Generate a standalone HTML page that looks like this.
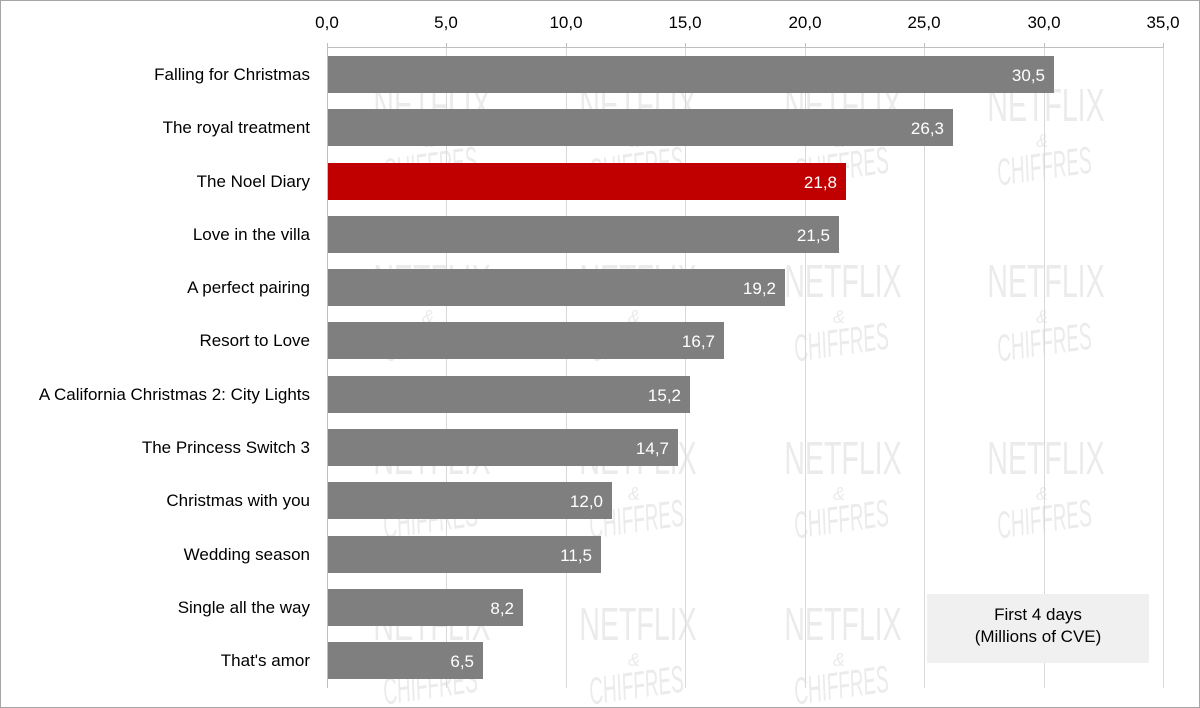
<!DOCTYPE html>
<html><head><meta charset="utf-8"><style>
body{margin:0;background:#fff}
svg{display:block}
</style></head><body>
<svg width="1200" height="708" xmlns="http://www.w3.org/2000/svg" font-family="Liberation Sans, sans-serif">
<defs>
<g id="w" fill="#ebebeb" text-anchor="middle">
<text x="0" y="0" font-size="46" transform="scale(0.62,1)">NETFLIX</text>
<text x="-4" y="26" font-size="18" font-style="italic">&amp;</text>
<text x="0" y="0" font-size="38" font-style="italic" transform="translate(0,58) rotate(-8) scale(0.5,1)">CHIFFRES</text>
</g>
</defs>
<rect x="0.5" y="0.5" width="1199" height="707" fill="#fff" stroke="#a6a6a6"/>
<use href="#w" x="432" y="121"/><use href="#w" x="638" y="121"/><use href="#w" x="843" y="121"/><use href="#w" x="1046" y="121"/>
<use href="#w" x="432" y="297"/><use href="#w" x="638" y="297"/><use href="#w" x="843" y="297"/><use href="#w" x="1046" y="297"/>
<use href="#w" x="432" y="474"/><use href="#w" x="638" y="474"/><use href="#w" x="843" y="474"/><use href="#w" x="1046" y="474"/>
<use href="#w" x="432" y="640"/><use href="#w" x="638" y="640"/><use href="#w" x="843" y="640"/>
<g stroke="#d9d9d9" stroke-width="1">
<line x1="446.5" y1="47" x2="446.5" y2="688"/><line x1="566.5" y1="47" x2="566.5" y2="688"/><line x1="685.5" y1="47" x2="685.5" y2="688"/><line x1="805.5" y1="47" x2="805.5" y2="688"/><line x1="924.5" y1="47" x2="924.5" y2="688"/><line x1="1044.5" y1="47" x2="1044.5" y2="688"/><line x1="1163.5" y1="47" x2="1163.5" y2="688"/>
</g>
<g stroke="#bfbfbf">
<line x1="327" y1="47.5" x2="1164" y2="47.5"/>
<line x1="327.5" y1="43" x2="327.5" y2="688"/>
<line x1="446.5" y1="43" x2="446.5" y2="47"/><line x1="566.5" y1="43" x2="566.5" y2="47"/><line x1="685.5" y1="43" x2="685.5" y2="47"/><line x1="805.5" y1="43" x2="805.5" y2="47"/><line x1="924.5" y1="43" x2="924.5" y2="47"/><line x1="1044.5" y1="43" x2="1044.5" y2="47"/><line x1="1163.5" y1="43" x2="1163.5" y2="47"/>
</g>
<g font-size="17" fill="#000" text-anchor="middle">
<text x="327" y="28">0,0</text><text x="446" y="28">5,0</text><text x="566" y="28">10,0</text><text x="685" y="28">15,0</text><text x="805" y="28">20,0</text><text x="924" y="28">25,0</text><text x="1044" y="28">30,0</text><text x="1163" y="28">35,0</text>
</g>
<g font-size="17">
<rect x="328" y="56" width="726" height="37" fill="#7f7f7f"/>
<rect x="328" y="109" width="625" height="37" fill="#7f7f7f"/>
<rect x="328" y="163" width="518" height="37" fill="#c00000"/>
<rect x="328" y="216" width="511" height="37" fill="#7f7f7f"/>
<rect x="328" y="269" width="457" height="37" fill="#7f7f7f"/>
<rect x="328" y="322" width="396" height="37" fill="#7f7f7f"/>
<rect x="328" y="376" width="362" height="37" fill="#7f7f7f"/>
<rect x="328" y="429" width="350" height="37" fill="#7f7f7f"/>
<rect x="328" y="482" width="284" height="37" fill="#7f7f7f"/>
<rect x="328" y="536" width="273" height="37" fill="#7f7f7f"/>
<rect x="328" y="589" width="195" height="37" fill="#7f7f7f"/>
<rect x="328" y="642" width="155" height="37" fill="#7f7f7f"/>
<g fill="#fff" text-anchor="end">
<text x="1045" y="81">30,5</text><text x="944" y="134">26,3</text><text x="837" y="188">21,8</text><text x="830" y="241">21,5</text><text x="776" y="294">19,2</text><text x="715" y="347">16,7</text><text x="681" y="401">15,2</text><text x="669" y="454">14,7</text><text x="603" y="507">12,0</text><text x="592" y="561">11,5</text><text x="514" y="614">8,2</text><text x="474" y="667">6,5</text>
</g>
<g fill="#000" text-anchor="end">
<text x="310" y="80">Falling for Christmas</text><text x="310" y="133">The royal treatment</text><text x="310" y="187">The Noel Diary</text><text x="310" y="240">Love in the villa</text><text x="310" y="293">A perfect pairing</text><text x="310" y="346">Resort to Love</text><text x="310" y="400">A California Christmas 2: City Lights</text><text x="310" y="453">The Princess Switch 3</text><text x="310" y="506">Christmas with you</text><text x="310" y="560">Wedding season</text><text x="310" y="613">Single all the way</text><text x="310" y="666">That's amor</text>
</g>
</g>
<rect x="927" y="594" width="222" height="69" fill="#f0f0f0"/>
<g font-size="17" text-anchor="middle" fill="#000"><text x="1038" y="620">First 4 days</text><text x="1038" y="642">(Millions of CVE)</text></g>
</svg>
</body></html>
